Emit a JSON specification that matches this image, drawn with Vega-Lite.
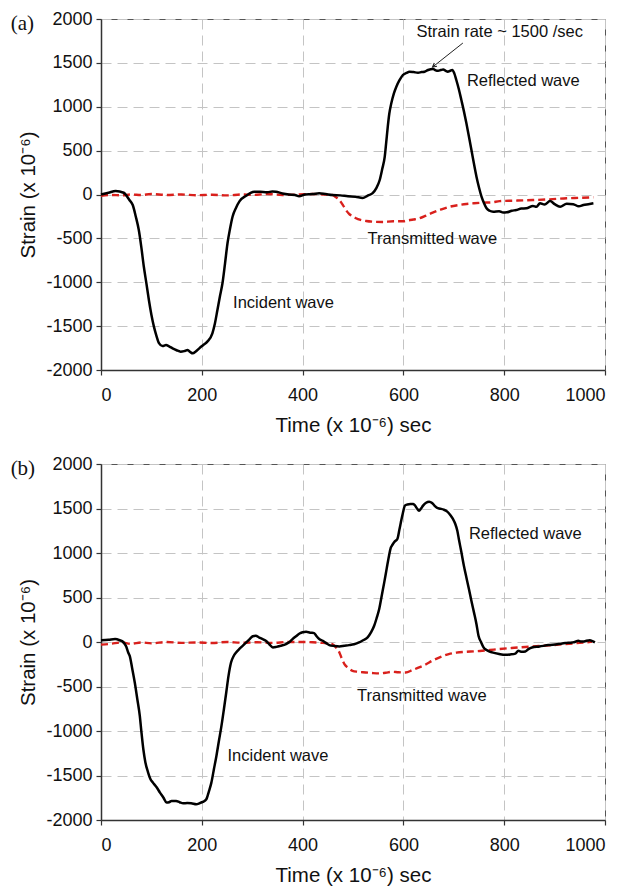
{
  "$schema": "https://vega.github.io/schema/vega-lite/v6.json",
  "background": "white",
  "padding": {"left": 10, "top": 9, "right": 5, "bottom": 0},
  "spacing": 18,
  "config": {
    "font": "Liberation Sans",
    "view": {"stroke": "#555", "strokeWidth": 1},
    "axis": {
      "grid": true, "gridColor": "#c4c4c4", "gridDash": [10, 6], "gridWidth": 1,
      "domainColor": "#333", "domainWidth": 1.5, "tickColor": "#333", "tickSize": 5, "tickWidth": 1.2,
      "labelFontSize": 18, "labelColor": "#111", "labelPadding": 4,
      "labelExpr": "'' + datum.value",
      "titleFontSize": 20.5, "titleFontWeight": "normal", "titleColor": "#111"
    },
    "axisX": {"labelPadding": 11, "titlePadding": 11},
    "axisY": {"titlePadding": 7},
    "text": {"font": "Liberation Sans", "fontSize": 16.5, "color": "#111"}
  },
  "datasets": {
    "a_black": [
      {"t":0,"e":0},{"t":15,"e":20},{"t":29,"e":40},{"t":45,"e":20},{"t":56,"e":-60},{"t":63,"e":-120},{"t":69,"e":-250},{"t":75,"e":-405},{"t":80,"e":-600},{"t":85,"e":-823},{"t":90,"e":-1010},{"t":95,"e":-1202},{"t":100,"e":-1370},{"t":105,"e":-1506},{"t":110,"e":-1610},{"t":115,"e":-1694},{"t":122,"e":-1727},{"t":129,"e":-1715},{"t":135,"e":-1730},{"t":142,"e":-1753},{"t":150,"e":-1775},{"t":158,"e":-1791},{"t":165,"e":-1785},{"t":172,"e":-1772},{"t":177,"e":-1795},{"t":182,"e":-1810},{"t":188,"e":-1790},{"t":195,"e":-1753},{"t":203,"e":-1715},{"t":211,"e":-1677},{"t":221,"e":-1582},{"t":226,"e":-1470},{"t":231,"e":-1316},{"t":236,"e":-1160},{"t":241,"e":-1012},{"t":246,"e":-790},{"t":251,"e":-556},{"t":256,"e":-390},{"t":261,"e":-253},{"t":268,"e":-150},{"t":275,"e":-75},{"t":288,"e":-15},{"t":296,"e":15},{"t":304,"e":32},{"t":316,"e":30},{"t":330,"e":25},{"t":340,"e":35},{"t":347,"e":32},{"t":360,"e":12},{"t":373,"e":0},{"t":385,"e":-5},{"t":393,"e":-20},{"t":405,"e":0},{"t":420,"e":5},{"t":433,"e":15},{"t":446,"e":5},{"t":459,"e":-6},{"t":475,"e":-10},{"t":490,"e":-20},{"t":505,"e":-25},{"t":519,"e":-40},{"t":530,"e":-10},{"t":539,"e":15},{"t":546,"e":70},{"t":553,"e":165},{"t":558,"e":290},{"t":563,"e":431},{"t":566,"e":600},{"t":569,"e":773},{"t":572,"e":920},{"t":576,"e":1039},{"t":581,"e":1150},{"t":586,"e":1229},{"t":592,"e":1300},{"t":599,"e":1362},{"t":606,"e":1385},{"t":612,"e":1399},{"t":620,"e":1395},{"t":629,"e":1388},{"t":636,"e":1395},{"t":642,"e":1399},{"t":649,"e":1419},{"t":659,"e":1430},{"t":664,"e":1415},{"t":669,"e":1410},{"t":674,"e":1418},{"t":679,"e":1425},{"t":684,"e":1410},{"t":688,"e":1399},{"t":693,"e":1410},{"t":697,"e":1420},{"t":701,"e":1380},{"t":705,"e":1305},{"t":710,"e":1200},{"t":715,"e":1077},{"t":720,"e":950},{"t":725,"e":811},{"t":730,"e":660},{"t":735,"e":507},{"t":740,"e":350},{"t":745,"e":203},{"t":750,"e":80},{"t":755,"e":-25},{"t":760,"e":-100},{"t":765,"e":-157},{"t":771,"e":-185},{"t":778,"e":-196},{"t":790,"e":-190},{"t":798,"e":-205},{"t":805,"e":-203},{"t":815,"e":-185},{"t":824,"e":-177},{"t":834,"e":-160},{"t":844,"e":-157},{"t":857,"e":-130},{"t":864,"e":-140},{"t":871,"e":-100},{"t":880,"e":-115},{"t":891,"e":-75},{"t":900,"e":-110},{"t":911,"e":-139},{"t":924,"e":-105},{"t":937,"e":-110},{"t":948,"e":-135},{"t":957,"e":-120},{"t":967,"e":-110},{"t":977,"e":-100}
    ],
    "a_red": [
      {"t":0,"e":-15},{"t":20,"e":-5},{"t":40,"e":-10},{"t":60,"e":0},{"t":80,"e":-5},{"t":100,"e":5},{"t":130,"e":-5},{"t":160,"e":0},{"t":190,"e":-8},{"t":220,"e":-3},{"t":250,"e":-10},{"t":280,"e":0},{"t":300,"e":-5},{"t":330,"e":5},{"t":360,"e":-5},{"t":394,"e":0},{"t":420,"e":5},{"t":440,"e":0},{"t":459,"e":-6},{"t":466,"e":-30},{"t":473,"e":-63},{"t":480,"e":-120},{"t":486,"e":-177},{"t":493,"e":-225},{"t":500,"e":-250},{"t":506,"e":-271},{"t":515,"e":-290},{"t":526,"e":-302},{"t":540,"e":-310},{"t":559,"e":-313},{"t":580,"e":-305},{"t":600,"e":-305},{"t":606,"e":-298},{"t":620,"e":-285},{"t":632,"e":-271},{"t":645,"e":-240},{"t":658,"e":-207},{"t":675,"e":-170},{"t":692,"e":-139},{"t":710,"e":-120},{"t":725,"e":-108},{"t":740,"e":-100},{"t":758,"e":-93},{"t":775,"e":-90},{"t":791,"e":-75},{"t":820,"e":-70},{"t":857,"e":-63},{"t":890,"e":-55},{"t":924,"e":-43},{"t":950,"e":-38},{"t":977,"e":-32}
    ],
    "b_black": [
      {"t":0,"e":20},{"t":15,"e":25},{"t":28,"e":33},{"t":37,"e":20},{"t":44,"e":0},{"t":50,"e":-50},{"t":54,"e":-118},{"t":57,"e":-155},{"t":62,"e":-300},{"t":67,"e":-455},{"t":72,"e":-640},{"t":77,"e":-830},{"t":80,"e":-1000},{"t":84,"e":-1205},{"t":88,"e":-1350},{"t":93.5,"e":-1467},{"t":98,"e":-1540},{"t":103,"e":-1580},{"t":110,"e":-1630},{"t":117,"e":-1692},{"t":124,"e":-1750},{"t":130,"e":-1804},{"t":135,"e":-1800},{"t":140,"e":-1786},{"t":149,"e":-1786},{"t":156,"e":-1800},{"t":163,"e":-1812},{"t":171,"e":-1810},{"t":179,"e":-1812},{"t":189,"e":-1823},{"t":196,"e":-1810},{"t":202,"e":-1797},{"t":209,"e":-1767},{"t":214,"e":-1680},{"t":219,"e":-1580},{"t":224,"e":-1430},{"t":229,"e":-1280},{"t":234,"e":-1110},{"t":239,"e":-943},{"t":244,"e":-750},{"t":248.5,"e":-567},{"t":253,"e":-380},{"t":258,"e":-230},{"t":263,"e":-160},{"t":268,"e":-118},{"t":275,"e":-75},{"t":281,"e":-43},{"t":288,"e":-5},{"t":295,"e":33},{"t":301,"e":65},{"t":307,"e":70},{"t":314,"e":50},{"t":320,"e":35},{"t":327,"e":14},{"t":334,"e":-25},{"t":341,"e":-61},{"t":348,"e":-55},{"t":356,"e":-43},{"t":367,"e":-23},{"t":374,"e":0},{"t":380,"e":33},{"t":387,"e":65},{"t":394,"e":95},{"t":400,"e":110},{"t":407,"e":115},{"t":415,"e":105},{"t":423,"e":100},{"t":427,"e":70},{"t":433,"e":33},{"t":440,"e":14},{"t":446,"e":-10},{"t":453,"e":-35},{"t":463,"e":-45},{"t":473,"e":-50},{"t":483,"e":-42},{"t":492,"e":-35},{"t":502,"e":-25},{"t":512,"e":-5},{"t":520,"e":20},{"t":529,"e":52},{"t":536,"e":110},{"t":542,"e":182},{"t":547,"e":270},{"t":552,"e":370},{"t":557,"e":520},{"t":562,"e":670},{"t":567,"e":830},{"t":571.5,"e":970},{"t":575,"e":1060},{"t":578,"e":1090},{"t":583,"e":1130},{"t":588,"e":1157},{"t":592,"e":1260},{"t":595,"e":1345},{"t":599,"e":1450},{"t":603,"e":1532},{"t":608,"e":1545},{"t":614,"e":1551},{"t":619,"e":1550},{"t":622,"e":1540},{"t":627,"e":1500},{"t":631,"e":1476},{"t":635,"e":1500},{"t":639,"e":1532},{"t":645,"e":1565},{"t":651,"e":1577},{"t":657,"e":1562},{"t":662,"e":1530},{"t":667,"e":1506},{"t":673,"e":1498},{"t":680,"e":1487},{"t":687,"e":1465},{"t":693,"e":1427},{"t":698,"e":1385},{"t":703,"e":1326},{"t":707,"e":1250},{"t":710,"e":1157},{"t":715,"e":1010},{"t":720,"e":857},{"t":725,"e":725},{"t":730,"e":595},{"t":735,"e":460},{"t":740,"e":333},{"t":745,"e":200},{"t":749,"e":70},{"t":754,"e":0},{"t":759,"e":-61},{"t":765,"e":-90},{"t":770,"e":-105},{"t":776,"e":-117},{"t":790,"e":-135},{"t":802,"e":-144},{"t":812,"e":-140},{"t":822,"e":-130},{"t":828,"e":-99},{"t":835,"e":-110},{"t":842,"e":-106},{"t":848,"e":-80},{"t":855,"e":-61},{"t":870,"e":-50},{"t":888,"e":-35},{"t":905,"e":-25},{"t":921,"e":-12},{"t":935,"e":-5},{"t":940,"e":0},{"t":947,"e":14},{"t":952,"e":5},{"t":957,"e":5},{"t":963,"e":15},{"t":970,"e":21},{"t":975,"e":10},{"t":980,"e":-5}
    ],
    "b_red": [
      {"t":0,"e":-30},{"t":20,"e":-20},{"t":40,"e":-5},{"t":60,"e":-20},{"t":80,"e":-5},{"t":100,"e":-15},{"t":130,"e":0},{"t":160,"e":-10},{"t":190,"e":-5},{"t":220,"e":-12},{"t":250,"e":0},{"t":280,"e":-8},{"t":310,"e":-3},{"t":340,"e":-10},{"t":370,"e":0},{"t":394,"e":0},{"t":420,"e":-3},{"t":440,"e":-10},{"t":459,"e":-23},{"t":466,"e":-60},{"t":473,"e":-117},{"t":478,"e":-190},{"t":483,"e":-249},{"t":490,"e":-290},{"t":499,"e":-324},{"t":510,"e":-335},{"t":525,"e":-342},{"t":540,"e":-350},{"t":552,"e":-353},{"t":565,"e":-345},{"t":578,"e":-335},{"t":590,"e":-340},{"t":604.5,"e":-342},{"t":618,"e":-315},{"t":631,"e":-286},{"t":645,"e":-250},{"t":657,"e":-211},{"t":673,"e":-170},{"t":690,"e":-136},{"t":705,"e":-120},{"t":723,"e":-110},{"t":740,"e":-105},{"t":756,"e":-99},{"t":772,"e":-90},{"t":789,"e":-80},{"t":820,"e":-65},{"t":855,"e":-50},{"t":890,"e":-38},{"t":921,"e":-23},{"t":950,"e":-10},{"t":974,"e":2}
    ],
    "a_notes": [
      {"t":626,"e":1852,"label":"Strain rate ~ 1500 /sec"},
      {"t":726,"e":1293,"label":"Reflected wave"},
      {"t":529,"e":-507,"label":"Transmitted wave"},
      {"t":262,"e":-1236,"label":"Incident wave"}
    ],
    "b_notes": [
      {"t":730,"e":1214,"label":"Reflected wave"},
      {"t":508,"e":-609,"label":"Transmitted wave"},
      {"t":251,"e":-1284,"label":"Incident wave"}
    ],
    "a_tag": [{"t":-156,"e":1943,"label":"(a)"}],
    "b_tag": [{"t":-155,"e":1945,"label":"(b)"}],
    "a_arrow": [{"t":718,"e":1726,"t2":658,"e2":1453}]
  },
  "vconcat": [
    {
      "width": 504,
      "height": 351,
      "encoding": {
        "x": {"field": "t", "type": "quantitative", "scale": {"domain": [0, 1000], "nice": false, "zero": false},
              "axis": {"values": [0, 200, 400, 600, 800, 1000], "title": "Time (x 10⁻⁶) sec"}},
        "y": {"field": "e", "type": "quantitative", "scale": {"domain": [-2000, 2000], "nice": false, "zero": false},
              "axis": {"values": [-2000, -1500, -1000, -500, 0, 500, 1000, 1500, 2000], "title": "Strain (x 10⁻⁶)"}}
      },
      "layer": [
        {"data": {"name": "a_red"}, "mark": {"type": "line", "color": "#d9201c", "strokeWidth": 2.4, "strokeDash": [7, 4], "interpolate": "monotone"}},
        {"data": {"name": "a_black"}, "mark": {"type": "line", "color": "#000", "strokeWidth": 2.5, "interpolate": "monotone"}},
        {"data": {"name": "a_arrow"}, "mark": {"type": "rule", "color": "#222", "strokeWidth": 1},
         "encoding": {"x2": {"field": "t2"}, "y2": {"field": "e2"}}},
        {"data": {"name": "a_arrow"}, "mark": {"type": "point", "shape": "M -0.55 1 L 0 0 L 0.55 1", "filled": false, "stroke": "#222", "strokeWidth": 1.2, "size": 60, "angle": 231, "opacity": 1},
         "encoding": {"x": {"field": "t2", "type": "quantitative"}, "y": {"field": "e2", "type": "quantitative"}}},
        {"data": {"name": "a_notes"}, "mark": {"type": "text", "baseline": "middle", "align": "left"},
         "encoding": {"text": {"field": "label"}}},
        {"data": {"name": "a_tag"}, "mark": {"type": "text", "font": "Liberation Serif", "fontSize": 21, "align": "center", "baseline": "middle"},
         "encoding": {"text": {"field": "label"}}}
      ]
    },
    {
      "width": 504,
      "height": 356,
      "encoding": {
        "x": {"field": "t", "type": "quantitative", "scale": {"domain": [0, 1000], "nice": false, "zero": false},
              "axis": {"values": [0, 200, 400, 600, 800, 1000], "title": "Time (x 10⁻⁶) sec"}},
        "y": {"field": "e", "type": "quantitative", "scale": {"domain": [-2000, 2000], "nice": false, "zero": false},
              "axis": {"values": [-2000, -1500, -1000, -500, 0, 500, 1000, 1500, 2000], "title": "Strain (x 10⁻⁶)"}}
      },
      "layer": [
        {"data": {"name": "b_red"}, "mark": {"type": "line", "color": "#d9201c", "strokeWidth": 2.4, "strokeDash": [7, 4], "interpolate": "monotone"}},
        {"data": {"name": "b_black"}, "mark": {"type": "line", "color": "#000", "strokeWidth": 2.5, "interpolate": "monotone"}},
        {"data": {"name": "b_notes"}, "mark": {"type": "text", "baseline": "middle", "align": "left"},
         "encoding": {"text": {"field": "label"}}},
        {"data": {"name": "b_tag"}, "mark": {"type": "text", "font": "Liberation Serif", "fontSize": 21, "align": "center", "baseline": "middle"},
         "encoding": {"text": {"field": "label"}}}
      ]
    }
  ]
}
